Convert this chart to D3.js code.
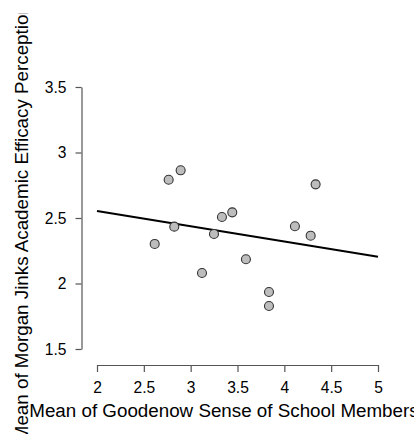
<!DOCTYPE html>
<html><head><meta charset="utf-8">
<script src="https://cdn.jsdelivr.net/npm/d3@7"></script>
<style>body{margin:0;background:#fff}svg{display:block}text{font-family:"Liberation Sans",Arial,sans-serif;fill:#000}</style>
</head><body>
<script>
const xValues = [2.765, 2.893, 2.825, 2.616, 3.121, 3.249, 3.334, 3.444, 3.590, 3.836, 3.836, 4.113, 4.281, 4.334];
const yValues = [2.792, 2.864, 2.434, 2.302, 2.080, 2.378, 2.508, 2.543, 2.185, 1.935, 1.828, 2.437, 2.365, 2.757];
const fitX = [2, 5];
const fitY = [2.553, 2.205];
const xTicks = [2, 2.5, 3, 3.5, 4, 4.5, 5];
const yTicks = [1.5, 2, 2.5, 3, 3.5];
const xTitle = "Mean of Goodenow Sense of School Membership";
const yTitle = "Mean of Morgan Jinks Academic Efficacy Perceptions";

const W = 414, H = 434;
const FONT = '"Liberation Sans",Arial,sans-serif';
const svg = d3.select("body").append("svg").attr("width", W).attr("height", H);
const x = d3.scaleLinear().domain([2, 5]).range([97, 378]);
const y = d3.scaleLinear().domain([1.5, 3.5]).range([349, 87]);

const fmt = d => String(d);

// y axis
const gy = svg.append("g").attr("transform", "translate(81.5,0)")
  .call(d3.axisLeft(y).tickValues(yTicks).tickFormat(fmt).tickSize(6).tickSizeOuter(0).tickPadding(9));
gy.selectAll("text").attr("font-size", 15.6).attr("font-family", FONT);
// x axis
const gx = svg.append("g").attr("transform", "translate(0,365)")
  .call(d3.axisBottom(x).tickValues(xTicks).tickFormat(fmt).tickSize(7).tickSizeOuter(0).tickPadding(10));
gx.selectAll("text").attr("font-size", 15.6).attr("font-family", FONT);
svg.selectAll(".domain, .tick line").attr("stroke", "#555").attr("stroke-width", 1.2);

// titles
svg.append("text").attr("x", (97 + 378) / 2 - 1).attr("y", 417)
  .attr("text-anchor", "middle").attr("font-size", 18.8).text(xTitle);

svg.append("clipPath").attr("id", "yclip")
  .append("rect").attr("x", 0).attr("y", 13).attr("width", 60).attr("height", H);
svg.append("g").attr("clip-path", "url(#yclip)")
  .append("text").attr("transform", `translate(27.5,${(87 + 349) / 2}) rotate(-90)`)
  .attr("text-anchor", "middle").attr("font-size", 18.8).text(yTitle);

// regression line
svg.append("line")
  .attr("x1", x(fitX[0])).attr("y1", y(fitY[0]))
  .attr("x2", x(fitX[1])).attr("y2", y(fitY[1]))
  .attr("stroke", "#000").attr("stroke-width", 2);

// points
svg.append("g").selectAll("circle").data(xValues.map((v, i) => [v, yValues[i]]))
  .join("circle")
  .attr("cx", d => x(d[0])).attr("cy", d => y(d[1])).attr("r", 4.5)
  .attr("fill", "#bdbdbd").attr("stroke", "#333").attr("stroke-width", 1.1);
</script>
</body></html>
